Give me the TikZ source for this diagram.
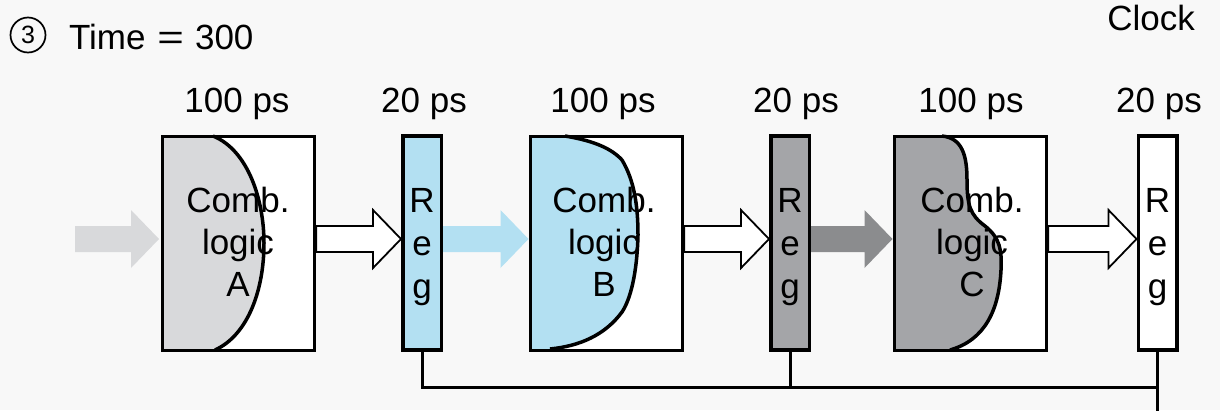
\documentclass[tikz,border=0pt]{standalone}
\usepackage{fontspec}
\usepackage{graphicx}
\setmainfont{Liberation Sans}
\usetikzlibrary{calc}
\definecolor{bg}{RGB}{248,248,248}
\definecolor{lgray}{RGB}{216,217,219}
\definecolor{lblue}{RGB}{179,224,242}
\definecolor{mgray}{RGB}{164,165,168}
\definecolor{dgray}{RGB}{139,140,142}
\newcommand\blockarrow[3]{\path[#1] ($(#2)+(0,-13)$) -- ($(#3)+(-28,-13)$) -- ($(#3)+(-28,-29)$) -- (#3) -- ($(#3)+(-28,29)$) -- ($(#3)+(-28,13)$) -- ($(#2)+(0,13)$) -- cycle;}
\begin{document}
\begin{tikzpicture}[x=1pt,y=-1pt,
  every node/.style={inner sep=0pt, outer sep=0pt},
  txt/.style={font=\fontsize{35}{42}\selectfont, align=center},
  regtxt/.style={font=\fontsize{35}{43}\selectfont, align=center},
  combbox/.style={draw=black, line width=3.5pt, fill=white, minimum width=152pt, minimum height=214pt},
  regbox/.style={draw=black, line width=3.5pt, minimum width=38.5pt, minimum height=214pt},
  border/.style={draw=black, line width=3.5pt},
  curve/.style={draw=black, line width=3.5pt},
  hollow/.style={draw=black, line width=1.8pt, fill=white, line join=miter},
  clk/.style={draw=black, line width=3pt},
  ring/.style={draw=black, line width=1.7pt}
]
\fill[bg] (0,0) rectangle (1220,410);
\useasboundingbox (0,0) rectangle (1220,410);

% header
\node[font=\fontsize{25}{25}\selectfont] (num) at (28,35) {3};
\draw[ring] (num.center) circle[radius=17.5pt];
\node[txt, anchor=west] (time) at (69,37) {Time\hspace{12pt}\scalebox{1.3}[1]{=}\hspace{11pt}300};
\node[txt] (clock) at (1151,18) {Clock};

% combinational boxes
\node[combbox] (A) at (238.5,243.5) {};
\node[combbox] (B) at (606.5,243.5) {};
\node[combbox] (C) at (970.5,243.5) {};

% registers
\node[regbox, fill=lblue] (R1) at (422,243) {};
\node[regbox, fill=mgray] (R2) at (790,243) {};
\node[regbox, fill=white] (R3) at (1157.5,243) {};

% progress fills
\fill[lgray] (161,136) -- (213,136) .. controls (248,150) and (264,200) .. (264,243) .. controls (264,290) and (248,335) .. (215,350) -- (161,350) -- cycle;
\draw[curve] (213,136) .. controls (248,150) and (264,200) .. (264,243) .. controls (264,290) and (248,335) .. (215,350);

\fill[lblue] (529,136) -- (565,136) .. controls (595,141) and (612,149) .. (622,160) .. controls (634,180) and (638,205) .. (638,235) .. controls (637,275) and (630,300) .. (622,312) .. controls (605,335) and (580,346) .. (550,349) -- (529,349) -- cycle;
\draw[curve] (565,136) .. controls (595,141) and (612,149) .. (622,160) .. controls (634,180) and (638,205) .. (638,235) .. controls (637,275) and (630,300) .. (622,312) .. controls (605,335) and (580,346) .. (550,349);

\fill[mgray] (893,136) -- (942,136) .. controls (962,138) and (967,155) .. (967,180) .. controls (967,205) and (970,215) .. (985,226) .. controls (1000,238) and (1002,250) .. (1001,270) .. controls (999,310) and (985,340) .. (950,350) -- (893,350) -- cycle;
\draw[curve] (942,136) .. controls (962,138) and (967,155) .. (967,180) .. controls (967,205) and (970,215) .. (985,226) .. controls (1000,238) and (1002,250) .. (1001,270) .. controls (999,310) and (985,340) .. (950,350);

% redraw borders
\draw[border] (A.north west) rectangle (A.south east);
\draw[border] (B.north west) rectangle (B.south east);
\draw[border] (C.north west) rectangle (C.south east);

% arrow anchor coordinates
\coordinate (in0) at (75,239);
\coordinate (tA) at ($(A.west)+(-3.5,-4.5)$);
\coordinate (sA) at ($(A.east)+(1.75,-4.5)$);
\coordinate (t1) at ($(R1.west)+(-1.75,-4)$);
\coordinate (s1) at ($(R1.east)+(1.75,-4)$);
\coordinate (tB) at ($(B.west)+(-2,-4.5)$);
\coordinate (sB) at ($(B.east)+(1.75,-4.5)$);
\coordinate (t2) at ($(R2.west)+(-1.75,-4)$);
\coordinate (s2) at ($(R2.east)+(1.75,-4)$);
\coordinate (tC) at ($(C.west)+(-2,-4.5)$);
\coordinate (sC) at ($(C.east)+(1.75,-4.5)$);
\coordinate (t3) at ($(R3.west)+(-1.75,-4)$);

\blockarrow{fill=lgray}{in0}{tA}
\blockarrow{hollow}{sA}{t1}
\blockarrow{fill=lblue}{s1}{tB}
\blockarrow{hollow}{sB}{t2}
\blockarrow{fill=dgray}{s2}{tC}
\blockarrow{hollow}{sC}{t3}

% clock wiring
\coordinate (bus) at ($(R1.south)+(0,37)$);
\coordinate (clkend) at (R3.south |- 0,412);
\draw[clk] (R1.south) -- (bus) -| (clkend);
\draw[clk] (R2.south) -- (R2.south |- bus);
\draw[clk] (R3.south) -- (clkend);

% delay labels
\node[txt] (dA) at (237,104) {100 ps};
\node[txt] (d1) at (424,104) {20 ps};
\node[txt] (dB) at (603,104) {100 ps};
\node[txt] (d2) at (796,104) {20 ps};
\node[txt] (dC) at (971,104) {100 ps};
\node[txt] (d3) at (1159,104) {20 ps};

% box texts
\node[txt] (xA) at (238,242) {Comb.\\logic\\A};
\node[txt] (xB) at (604,242) {Comb.\\logic\\B};
\node[txt] (xC) at (972,242) {Comb.\\logic\\C};
\node[regtxt] (g1) at (422,247) {R\\e\\g};
\node[regtxt] (g2) at (790,247) {R\\e\\g};
\node[regtxt] (g3) at (1157.5,247) {R\\e\\g};
\end{tikzpicture}
\end{document}
